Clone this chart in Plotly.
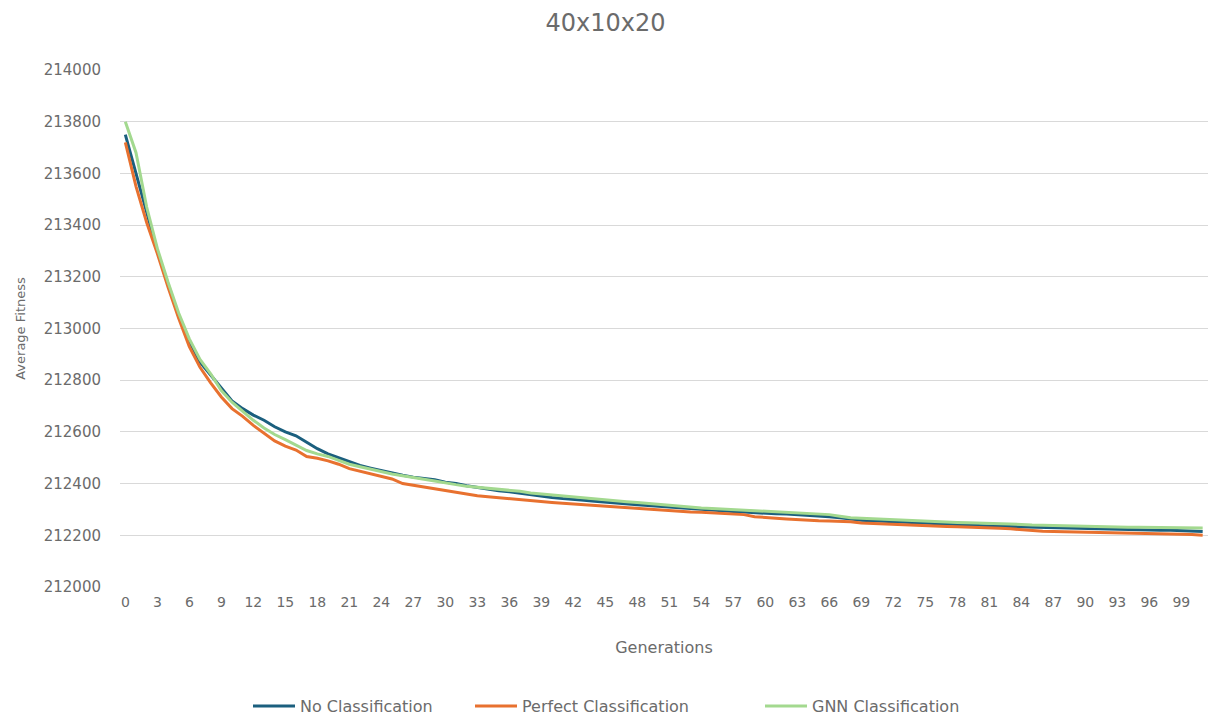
import plotly.graph_objects as go

generations = list(range(0, 102))

no_classification = [
    213750, 213600, 213440, 213300, 213170, 213050, 212950, 212870, 212820, 212770,
    212720, 212690, 212665, 212645, 212620, 212600, 212585, 212560, 212535, 212515,
    212500, 212485, 212470, 212460, 212450, 212440, 212432, 212425, 212420, 212415,
    212405, 212400, 212392, 212385, 212378, 212372, 212368, 212362, 212356, 212350,
    212346, 212342, 212340, 212336, 212332, 212328, 212325, 212322, 212318, 212315,
    212312, 212308, 212305, 212302, 212300, 212298, 212295, 212292, 212290, 212287,
    212285, 212283, 212282, 212280, 212277, 212275, 212272, 212268, 212262, 212258,
    212256, 212254, 212252, 212250, 212248, 212246, 212244, 212243, 212241, 212239,
    212238, 212236, 212235, 212234, 212232, 212231, 212230, 212229, 212228, 212227,
    212226, 212224, 212223, 212222, 212222, 212221, 212221, 212220, 212220, 212219,
    212218, 212215,
]

perfect_classification = [
    213720, 213550, 213410, 213290, 213160, 213040, 212930, 212850, 212790, 212735,
    212690, 212660, 212625, 212595, 212565, 212545, 212530, 212505, 212498, 212488,
    212475, 212458, 212448, 212437, 212428, 212418, 212400, 212393, 212387, 212381,
    212374, 212367, 212360, 212353, 212349, 212345, 212341, 212338, 212334, 212330,
    212327, 212324, 212321, 212318, 212315, 212312, 212310, 212308, 212305, 212302,
    212298, 212294, 212292, 212290, 212289, 212287, 212285, 212283, 212280, 212272,
    212268, 212266, 212263, 212260, 212257, 212256, 212255, 212254, 212252, 212248,
    212246, 212245, 212243, 212241, 212239, 212236, 212235, 212234, 212233, 212232,
    212230, 212228, 212227, 212225, 212222, 212218, 212216, 212215, 212214, 212214,
    212213, 212212, 212211, 212209, 212208, 212208, 212207, 212207, 212206, 212205,
    212203, 212200,
]

gnn_classification = [
    213800, 213680, 213470, 213310, 213180, 213060, 212960, 212880, 212825, 212760,
    212715, 212680, 212645, 212615, 212590, 212570, 212550, 212528, 212515, 212505,
    212490, 212475, 212465, 212455, 212445, 212437, 212430, 212422, 212417, 212410,
    212402, 212396, 212390, 212386, 212382, 212378, 212376, 212370, 212364, 212360,
    212356, 212352, 212350, 212345, 212340, 212336, 212333, 212330, 212327, 212323,
    212320, 212316, 212312, 212309, 212306, 212304, 212302, 212300, 212298, 212295,
    212292, 212290, 212288, 212286, 212284, 212282, 212280, 212274, 212268, 212266,
    212264, 212262, 212260, 212258, 212256, 212254, 212252, 212251, 212250, 212249,
    212248, 212246, 212245, 212244, 212242, 212240, 212239, 212238, 212236, 212234,
    212233, 212233, 212232, 212232, 212231, 212231, 212230, 212230, 212229, 212229,
    212228, 212228,
]

x_tick_values = list(range(0, 100, 3))
y_tick_values = list(range(212000, 214001, 200))

font_family = "DejaVu Sans, Liberation Sans, Arial, sans-serif"
text_grey = "#6b6b6b"

series = [
    ("No Classification", no_classification, "#1b5f7e", "legend"),
    ("Perfect Classification", perfect_classification, "#e8712f", "legend2"),
    ("GNN Classification", gnn_classification, "#a3d98f", "legend3"),
]

fig = go.Figure()
for name, values, color, legend_id in series:
    fig.add_trace(go.Scatter(
        x=generations, y=values, mode="lines", name=name,
        line=dict(color=color, width=3), legend=legend_id,
    ))


def legend_box(x_px):
    # one legend entry per box, placed along the bottom of the figure
    return dict(
        orientation="h",
        xref="container", x=x_px / 1211, xanchor="left",
        yref="container", y=(719 - 706) / 719, yanchor="middle",
        font=dict(size=16, color=text_grey, family=font_family),
        itemwidth=42,
        bgcolor="rgba(0,0,0,0)",
    )


fig.update_layout(
    width=1211,
    height=719,
    margin=dict(l=120, r=3, t=70, b=132),
    paper_bgcolor="white",
    plot_bgcolor="white",
    font=dict(family=font_family, color=text_grey, size=13),
    title=dict(
        text="40x10x20", x=0.5, xanchor="center", y=0.968, yanchor="middle",
        font=dict(size=24, color=text_grey, family=font_family),
    ),
    xaxis=dict(
        range=[-0.5, 101.5],
        tickmode="array",
        tickvals=x_tick_values,
        ticktext=[str(v) for v in x_tick_values],
        showgrid=False,
        zeroline=False,
        showline=False,
        ticks="",
        ticklabelstandoff=5,
        tickfont=dict(size=14, color=text_grey),
        title=dict(text="Generations", font=dict(size=16, color=text_grey), standoff=32),
    ),
    yaxis=dict(
        range=[212000, 214000],
        tickmode="array",
        tickvals=y_tick_values,
        ticktext=[str(v) for v in y_tick_values],
        showgrid=True,
        gridcolor="#d9d9d9",
        gridwidth=1,
        zeroline=False,
        showline=False,
        ticks="",
        ticklabelstandoff=18,
        tickfont=dict(size=15, color=text_grey),
        title=dict(text="Average Fitness", font=dict(size=13, color=text_grey), standoff=15),
    ),
    legend=legend_box(248),
    legend2=legend_box(470),
    legend3=legend_box(760),
    showlegend=True,
)

fig.write_html("out.html")
